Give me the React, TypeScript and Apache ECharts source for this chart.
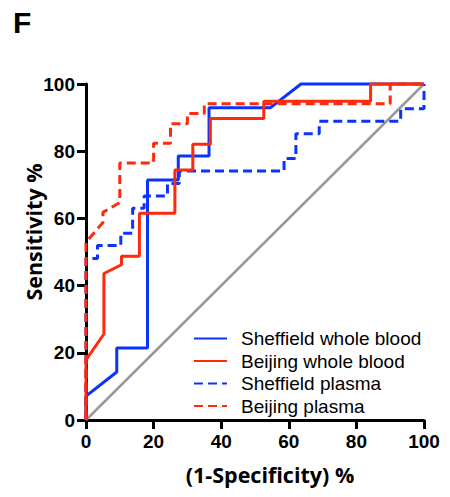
import React, { useEffect, useRef } from "react";
import * as echarts from "echarts";

const seriesNames = ["Sheffield whole blood", "Beijing whole blood", "Sheffield plasma", "Beijing plasma"];

const sheffieldWholeBlood: number[][] = [
  [0, 0], [0, 7.1], [9.1, 14.3], [9.1, 21.4], [18.2, 21.4], [18.2, 71.4], [27.3, 71.4], [27.3, 78.6],
  [36.4, 78.6], [36.4, 92.9], [54.5, 92.9], [63.6, 100], [100, 100],
];
const beijingWholeBlood: number[][] = [
  [0, 0], [0, 17.9], [5.3, 25.6], [5.3, 43.6], [10.5, 46.2], [10.5, 48.7], [15.8, 48.7], [15.8, 61.5],
  [26.3, 61.5], [26.3, 74.4], [31.6, 74.4], [31.6, 82.1], [36.8, 82.1], [36.8, 89.7], [52.6, 89.7],
  [52.6, 94.9], [84.2, 94.9], [84.2, 100], [100, 100],
];
const sheffieldPlasma: number[][] = [
  [0, 0], [0, 48.1], [3.4, 48.1], [3.4, 51.9], [10.3, 51.9], [10.3, 55.6], [13.8, 55.6], [13.8, 63.0],
  [17.2, 63.0], [17.2, 66.7], [24.1, 66.7], [24.1, 70.4], [27.6, 70.4], [27.6, 74.1], [58.6, 74.1],
  [58.6, 77.8], [62.1, 77.8], [62.1, 85.2], [69.0, 85.2], [69.0, 88.9], [93.1, 88.9], [93.1, 92.6],
  [100, 92.6], [100, 100],
];
const beijingPlasma: number[][] = [
  [0, 0], [0, 52.9], [5, 58.8], [5, 61.8], [10, 64.7], [10, 76.5], [20, 76.5], [20, 82.4], [25, 82.4],
  [25, 88.2], [30, 88.2], [30, 91.2], [35, 91.2], [35, 94.1], [90, 94.1], [90, 100], [100, 100],
];
const referenceLine: number[][] = [[0, 0], [100, 100]];

const BLUE = "#0a33ff";
const RED = "#ff2a0d";

export default function App() {
  const ref = useRef<HTMLDivElement>(null);
  useEffect(() => {
    if (!ref.current) return;
    const chart = echarts.init(ref.current, null, { renderer: "svg" });
    const mk = (name: string, data: number[][], color: string, dashed: boolean) => ({
      name,
      type: "line",
      data,
      symbol: "none",
      clip: false,
      lineStyle: { color, width: 3, type: dashed ? [9, 5] : "solid" },
      itemStyle: { color, opacity: 0 },
    });
    chart.setOption({
      animation: false,
      backgroundColor: "#fff",
      grid: { left: 86, right: 26, top: 84, bottom: 77 },
      xAxis: {
        type: "value", min: 0, max: 100, interval: 20,
        axisLine: { show: true, lineStyle: { color: "#000", width: 3 } },
        axisTick: { show: true, length: 9, lineStyle: { color: "#000", width: 3 } },
        axisLabel: { color: "#000", fontSize: 19, fontWeight: "bold", fontFamily: "Liberation Sans", margin: 12 },
        splitLine: { show: false },
      },
      yAxis: {
        type: "value", min: 0, max: 100, interval: 20,
        axisLine: { show: true, lineStyle: { color: "#000", width: 3 } },
        axisTick: { show: true, length: 9, lineStyle: { color: "#000", width: 3 } },
        axisLabel: { color: "#000", fontSize: 19, fontWeight: "bold", fontFamily: "Liberation Sans", margin: 11 },
        splitLine: { show: false },
      },
      legend: {
        orient: "vertical",
        left: 188,
        top: 324,
        itemWidth: 33,
        itemHeight: 10,
        itemGap: 3.5,
        data: seriesNames,
        itemStyle: { opacity: 0 },
        textStyle: { color: "#000", fontSize: 19, fontFamily: "Liberation Sans", padding: [0, 0, 0, 9] },
      },
      graphic: [
        { type: "text", left: 13, top: 7, style: { text: "F", fontSize: 30, fontWeight: "bold", fontFamily: "Liberation Sans", fill: "#000" } },
        { type: "text", x: 270, y: 474, style: { text: "(1-Specificity) %", fontSize: 21.5, fontWeight: "bold", fontFamily: "Open Sans", fill: "#000", align: "center", verticalAlign: "middle" } },
        { type: "text", x: 33, y: 232, rotation: Math.PI / 2, style: { text: "Sensitivity %", fontSize: 21.5, fontWeight: "bold", fontFamily: "Open Sans", fill: "#000", align: "center", verticalAlign: "middle" } },
      ],
      series: [
        {
          name: "ref", type: "line", data: referenceLine, symbol: "none", silent: true, z: 1,
          lineStyle: { color: "#999", width: 2.5 },
        },
        mk(seriesNames[0], sheffieldWholeBlood, BLUE, false),
        mk(seriesNames[2], sheffieldPlasma, BLUE, true),
        mk(seriesNames[3], beijingPlasma, RED, true),
        mk(seriesNames[1], beijingWholeBlood, RED, false),
      ],
    });
    return () => chart.dispose();
  }, []);
  return <div ref={ref} style={{ width: 450, height: 497, position: "absolute", left: 0, top: 0 }} />;
}
